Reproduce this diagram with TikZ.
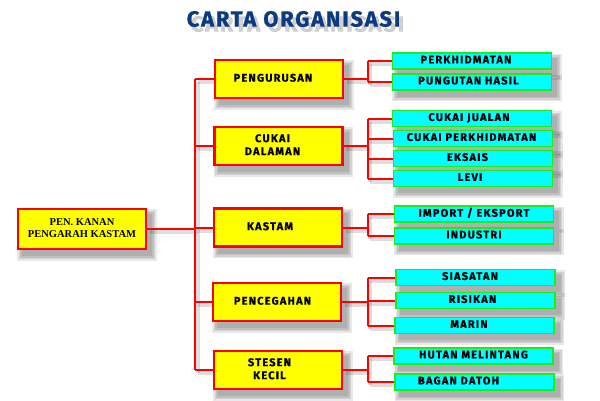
\documentclass[tikz,border=0pt]{standalone}
\usepackage{fontspec}
\setmainfont{Liberation Serif}
\newfontfamily\boxfont{Fira Sans}[LetterSpace=11, BoldFeatures={FakeBold=0.8}]
\newfontfamily\titlefont{Fira Sans}[LetterSpace=8, BoldFeatures={FakeBold=1}]
\usetikzlibrary{calc}
\pgfdeclarelayer{shadowlayer}
\pgfdeclarelayer{linelayer}
\pgfsetlayers{shadowlayer,linelayer,main}
\definecolor{titleblue}{RGB}{12,58,128}
\definecolor{boxred}{RGB}{255,0,0}
\definecolor{boxyellow}{RGB}{255,255,0}
\definecolor{boxcyan}{RGB}{0,255,255}
\definecolor{boxgreen}{RGB}{30,235,30}
\newcommand{\tx}[2]{\begin{tabular}{@{}c@{\hspace{#1pt}}}#2\end{tabular}}
\begin{document}
\begin{tikzpicture}[x=1pt,y=-1pt,
  ybox/.style={draw=boxred, line width=2.4pt, fill=boxyellow, minimum width=128pt,
    minimum height=38pt, inner sep=0pt, font=\boxfont\bfseries\fontsize{11}{13}\selectfont},
  lbox/.style={draw=boxred, line width=2.4pt, fill=boxyellow, minimum width=128pt,
    minimum height=40pt, inner sep=0pt, font=\bfseries\fontsize{10.5}{12.5}\selectfont},
  bbox/.style={draw=boxgreen, line width=1.3pt, fill=boxcyan, minimum width=159pt,
    minimum height=16pt, inner sep=0pt, font=\boxfont\bfseries\fontsize{11}{12}\selectfont},
  conn/.style={draw=boxred, line width=2pt,
    preaction={draw=black, opacity=.13, line width=4pt,
      transform canvas={shift={(2.5pt,-3pt)}}}},
  shadowbox/.style={fill=black, opacity=.09},
  titlestyle/.style={font=\titlefont\bfseries\fontsize{22}{26}\selectfont}
]
\useasboundingbox (0,0) rectangle (600,400);

% title with its soft shadow
\node[titlestyle, text=black, opacity=.18] (titleshadow) at (297.5,24) {CARTA ORGANISASI};
\node[titlestyle, text=titleblue] (title) at (293.5,19) {CARTA ORGANISASI};

% left box
\node[lbox] (L) at (82,229) {\tx{0}{PEN. KANAN\\PENGARAH KASTAM}};

% middle boxes
\node[ybox] (m1) at (279,79)   {\tx{12}{PENGURUSAN}};
\node[ybox] (m2) at (278.5,146) {\tx{12}{CUKAI\\DALAMAN}};
\node[ybox] (m3) at (278,227.5) {\tx{16}{KASTAM}};
\node[ybox] (m4) at (277,302)  {\tx{9}{PENCEGAHAN}};
\node[ybox] (m5) at (278,370)  {\tx{17}{STESEN\\KECIL}};

% right boxes
\node[bbox] (b11) at (472,61)    {\tx{12}{PERKHIDMATAN}};
\node[bbox] (b12) at (472,82)    {\tx{7}{PUNGUTAN HASIL}};
\node[bbox] (b21) at (472,118.5) {\tx{6}{CUKAI JUALAN}};
\node[bbox] (b22) at (473,138.5) {\tx{3}{CUKAI PERKHIDMATAN}};
\node[bbox] (b23) at (473,158.5) {\tx{11}{EKSAIS}};
\node[bbox] (b24) at (473,178.5) {\tx{6}{LEVI}};
\node[bbox] (b31) at (474,214)   {\tx{0}{IMPORT / EKSPORT}};
\node[bbox] (b32) at (474,236)   {\tx{0}{INDUSTRI}};
\node[bbox] (b41) at (475.5,277.5) {\tx{11}{SIASATAN}};
\node[bbox] (b42) at (475.5,300.5) {\tx{6}{RISIKAN}};
\node[bbox] (b43) at (474.5,325.5) {\tx{11}{MARIN}};
\node[bbox] (b51) at (473.5,356)   {\tx{0}{HUTAN MELINTANG}};
\node[bbox] (b52) at (474.5,382)   {\tx{32}{BAGAN DATOH}};

% soft shadows of boxes
\begin{pgfonlayer}{shadowlayer}
\foreach \n in {L,m1,m2,m3,m4,m5,b11,b12,b21,b22,b23,b24,b31,b32,b41,b42,b43,b51,b52}{
  \foreach \r in {0,1.5,3,4.5}{
    \fill[shadowbox] ($(\n.north west)+(5-\r,6-\r)$) rectangle ($(\n.south east)+(5+\r,6+\r)$);
  }
}
\end{pgfonlayer}

% connectors
\coordinate (tr) at (195,0);
\coordinate (br) at (367.5,0);
\begin{pgfonlayer}{linelayer}
\draw[conn] (L.east) -- (tr |- L.east);
\draw[conn] (tr |- m1.west) -- (tr |- m5.west);
\foreach \m in {m1,m2,m3,m4,m5}{
  \draw[conn] (tr |- \m.west) -- (\m.west);
}
\draw[conn] (m1.east) -- (br |- m1.east);
\draw[conn] (br |- b11.west) -- (br |- b12.west);
\foreach \c in {b11,b12}{ \draw[conn] (br |- \c.west) -- (\c.west); }
\draw[conn] (m2.east) -- (br |- m2.east);
\draw[conn] (br |- b21.west) -- (br |- b24.west);
\foreach \c in {b21,b22,b23,b24}{ \draw[conn] (br |- \c.west) -- (\c.west); }
\draw[conn] (m3.east) -- (br |- m3.east);
\draw[conn] (br |- b31.west) -- (br |- b32.west);
\foreach \c in {b31,b32}{ \draw[conn] (br |- \c.west) -- (\c.west); }
\draw[conn] (m4.east) -- (br |- m4.east);
\draw[conn] (br |- b41.west) -- (br |- b43.west);
\foreach \c in {b41,b42,b43}{ \draw[conn] (br |- \c.west) -- (\c.west); }
\draw[conn] (m5.east) -- (br |- m5.east);
\draw[conn] (br |- b51.west) -- (br |- b52.west);
\foreach \c in {b51,b52}{ \draw[conn] (br |- \c.west) -- (\c.west); }
\end{pgfonlayer}
\end{tikzpicture}
\end{document}
